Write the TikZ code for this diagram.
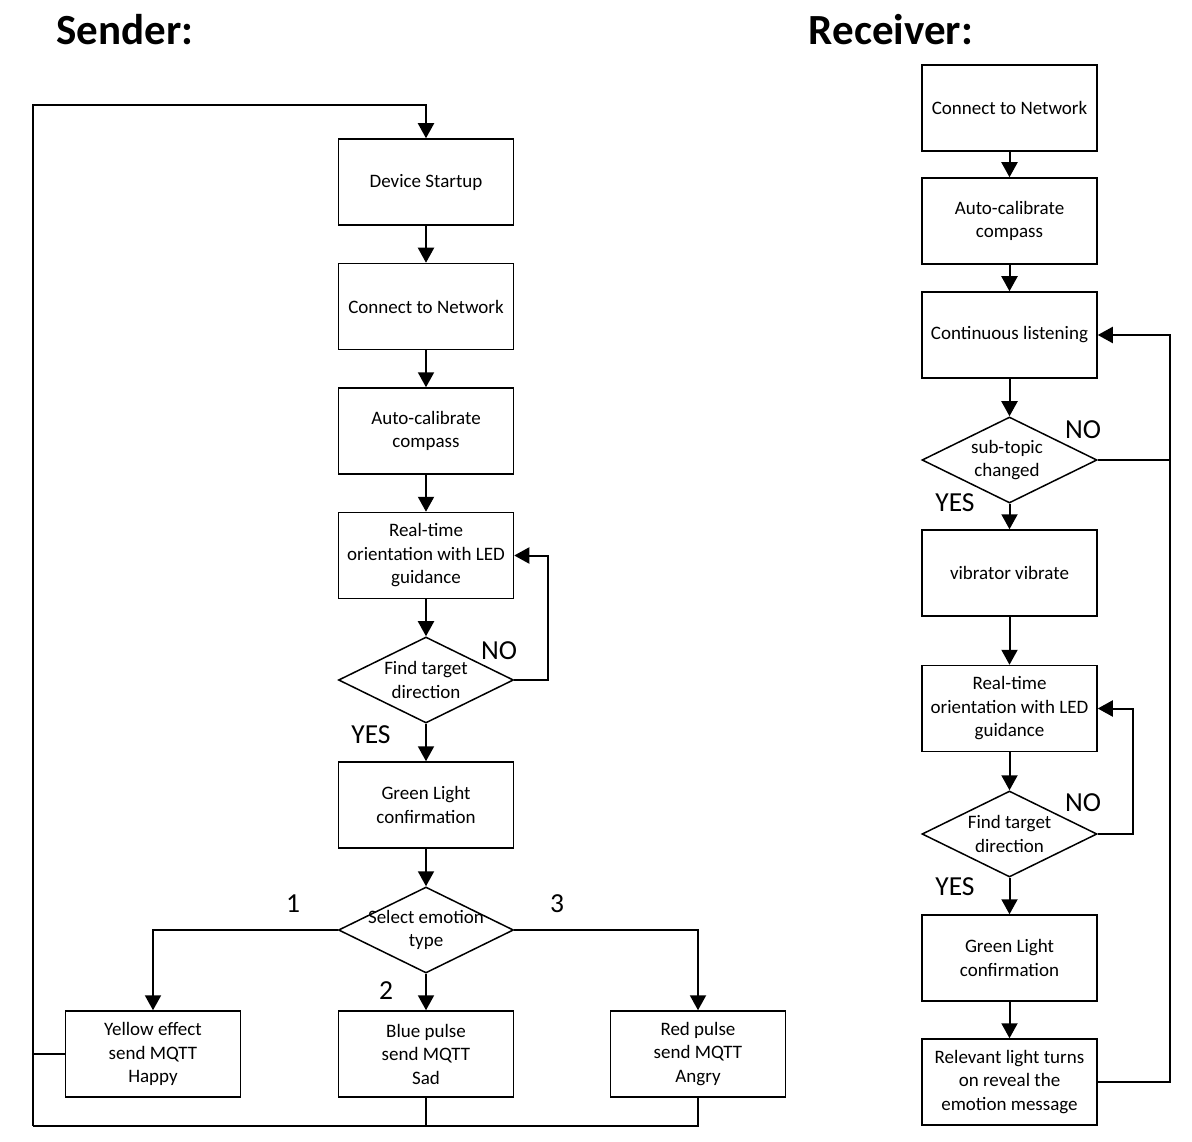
\documentclass[tikz,border=0pt]{standalone}
\usepackage{fontspec}
\setmainfont{Carlito}
\usetikzlibrary{arrows.meta,shapes.geometric}
\begin{document}
\begin{tikzpicture}[x=1pt,y=-1pt,
  stepbox/.style={draw,line width=1.5pt,minimum width=175pt,minimum height=86pt,inner sep=0pt,align=center,font=\fontsize{19}{23.5}\selectfont},
  decision/.style={draw,diamond,line width=1.5pt,minimum width=175pt,minimum height=86pt,inner sep=0pt,aspect=2.03},
  dtext/.style={align=center,font=\fontsize{19}{23.5}\selectfont},
  flow/.style={line width=2pt,-{Triangle[width=16pt,length=15pt]}},
  plain/.style={line width=2pt},
  lbl/.style={font=\fontsize{27.5}{30}\selectfont},
  ttl/.style={font=\fontsize{43}{46}\selectfont\bfseries}]
\useasboundingbox (0,0) rectangle (1192,1142);
% titles
\node[ttl] (tS) at (125,30) {Sender:};
\node[ttl] (tR) at (891,30) {Receiver:};
% sender
\node[stepbox] (s1) at (426,182) {Device Startup};
\node[stepbox] (s2) at (426,306.5) {Connect to Network};
\node[stepbox] (s3) at (426,431) {Auto-calibrate\\compass};
\node[stepbox] (s4) at (426,555.5) {Real-time\\orientation with LED\\guidance};
\node[decision] (d1) at (426,680) {};
\node[dtext] (d1t) at (426,680) {Find target\\direction};
\node[stepbox] (s5) at (426,805) {Green Light\\confirmation};
\node[decision] (d2) at (426,930) {};
\node[dtext] (d2t) at (426,930) {Select emotion\\type};
\node[stepbox] (e1) at (153,1054) {Yellow effect\\send MQTT\\Happy};
\node[stepbox] (e2) at (426,1054) {Blue pulse\\send MQTT\\Sad};
\node[stepbox] (e3) at (698,1054) {Red pulse\\send MQTT\\Angry};
\draw[flow] (s1) -- (s2);
\draw[flow] (s2) -- (s3);
\draw[flow] (s3) -- (s4);
\draw[flow] (s4) -- (d1);
\draw[flow] (d1) -- (s5);
\draw[flow] (s5) -- (d2);
\draw[flow] (d1.east) -- (548,680) |- (s4.east);
\draw[flow] (d2.west) -| (e1.north);
\draw[flow] (d2.east) -| (e3.north);
\draw[flow] (d2) -- (e2);
\coordinate (lb) at (33,1126);
\coordinate (lt) at (33,105);
\draw[plain] (e1.west) -- (33,1054);
\draw[flow] (lb) -- (lt) -| (s1.north);
\draw[plain] (e2.south) -- (426,1126);
\draw[plain] (e3.south) -- (698,1126) -- (lb);
\node[lbl] (no1) at (499,651) {NO};
\node[lbl] (yes1) at (371,735) {YES};
\node[lbl] (n1) at (293,904) {1};
\node[lbl] (n2) at (386,991) {2};
\node[lbl] (n3) at (557,904) {3};
% receiver
\node[stepbox] (r1) at (1009.5,108) {Connect to Network};
\node[stepbox] (r2) at (1009.5,221) {Auto-calibrate\\compass};
\node[stepbox] (r3) at (1009.5,335) {Continuous listening};
\node[decision] (rd1) at (1009.5,460) {};
\node[dtext] (rd1t) at (1007,460) {sub-topic\\changed};
\node[stepbox] (r4) at (1009.5,573) {vibrator vibrate};
\node[stepbox] (r5) at (1009.5,708.5) {Real-time\\orientation with LED\\guidance};
\node[decision] (rd2) at (1009.5,834) {};
\node[dtext] (rd2t) at (1009.5,834) {Find target\\direction};
\node[stepbox] (r6) at (1009.5,958) {Green Light\\confirmation};
\node[stepbox] (r7) at (1009.5,1082) {Relevant light turns\\on reveal the\\emotion message};
\draw[flow] (r1) -- (r2);
\draw[flow] (r2) -- (r3);
\draw[flow] (r3) -- (rd1);
\draw[flow] (rd1) -- (r4);
\draw[flow] (r4) -- (r5);
\draw[flow] (r5) -- (rd2);
\draw[flow] (rd2) -- (r6);
\draw[flow] (r6) -- (r7);
\draw[plain] (rd1.east) -- (1170,460);
\draw[flow] (r7.east) -- (1170,1082) |- (r3.east);
\draw[flow] (rd2.east) -- (1133,834) |- (r5.east);
\node[lbl] (no2) at (1083,430) {NO};
\node[lbl] (yes2) at (955,503) {YES};
\node[lbl] (no3) at (1083,803) {NO};
\node[lbl] (yes3) at (955,887) {YES};
\end{tikzpicture}
\end{document}
